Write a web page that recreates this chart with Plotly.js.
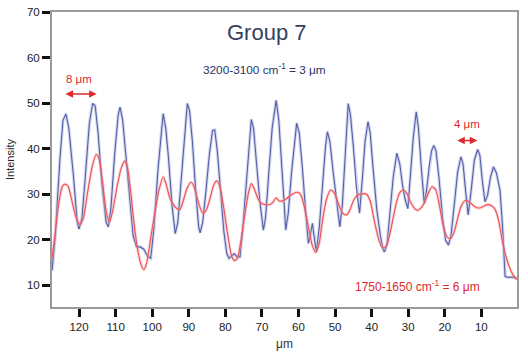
<!DOCTYPE html>
<html>
<head>
<meta charset="utf-8">
<script src="https://cdn.plot.ly/plotly-3.0.1.min.js"></script>
<style>html,body{margin:0;padding:0;background:#fff;}#chart{width:528px;height:357px;}</style>
</head>
<body>
<div id="chart"></div>
<script>
// Position along the scan (µm) and intensity for the 3200-3100 cm-1 band (blue)
const blueX = [127.4,126.6,125.2,124.4,123.6,122.8,121.5,120.5,120.0,119.2,118.3,117.2,116.3,115.6,114.8,113.8,112.6,112.0,111.3,110.3,109.3,108.8,108.1,107.2,106.1,105.2,104.3,103.3,102.3,101.3,100.4,99.5,98.4,97.4,97.0,96.3,95.6,94.6,93.7,93.0,92.2,91.3,90.4,89.8,89.0,88.2,87.3,86.9,86.2,85.3,84.4,83.5,82.9,82.2,81.3,80.4,79.6,79.0,78.3,77.6,76.8,76.0,75.3,74.4,73.6,72.9,72.3,71.5,70.6,69.6,69.0,68.2,67.2,66.5,66.1,65.4,64.6,63.9,63.5,62.8,61.9,61.0,60.5,59.8,58.9,58.1,57.3,56.8,56.2,55.6,55.1,54.3,53.4,52.6,52.1,51.4,50.5,49.5,48.7,48.0,47.3,46.8,46.4,45.8,45.0,44.2,43.3,42.6,41.8,41.0,40.4,39.6,38.6,37.6,36.9,36.5,35.8,35.0,34.1,33.1,32.3,31.5,30.8,30.1,29.4,28.6,27.8,27.2,26.4,25.6,25.0,24.2,23.6,23.0,22.4,21.6,20.6,19.8,19.0,18.3,17.4,16.5,15.6,15.0,14.3,13.6,12.8,11.9,11.0,10.4,9.7,9.0,8.3,7.5,6.7,5.9,4.9,4.2,3.5,2.5,1.5,0.3];
const blueY = [13.2,19.8,38.1,46.2,47.6,44.5,33.7,23.8,22.3,24.8,33.7,45.4,49.9,49.4,43.5,32.7,23.8,22.8,26.7,38.5,47.4,49.1,46.4,38.5,28.7,20.8,18.4,18.4,17.9,16.4,15.9,22.8,35.6,44.5,47.7,44.5,38.5,27.7,21.3,23.8,31.7,41.5,49.9,48.4,41.5,31.7,22.8,21.5,23.8,30.7,38.5,44.0,44.1,39.5,30.7,21.8,16.9,15.9,16.4,16.9,16.2,16.2,21.8,31.7,40.5,46.4,44.5,37.5,28.7,22.1,24.8,33.7,44.5,48.4,50.6,46.4,37.5,27.7,22.1,25.8,34.7,42.5,45.6,43.5,35.6,26.7,19.2,20.8,23.6,19.9,17.3,22.8,32.7,40.5,43.7,41.5,34.7,27.7,22.8,27.7,38.5,46.4,49.9,47.4,40.5,31.7,25.8,32.7,41.5,45.9,43.5,35.6,26.7,20.8,17.9,17.3,18.9,25.8,33.7,39.0,36.6,31.7,28.7,26.8,33.7,42.5,48.1,44.5,35.6,27.9,30.7,36.6,39.5,40.7,39.5,33.7,24.8,19.9,18.8,20.8,27.7,34.7,38.2,36.6,30.7,25.4,30.7,37.5,39.8,38.5,32.7,28.3,29.7,33.7,36.0,34.7,30.9,22.8,11.9,11.7,11.8,11.5];

// Position (µm) and intensity for the 1750-1650 cm-1 band (red)
const redX = [127.4,126.6,125.6,124.6,123.8,123.0,122.0,121.0,119.8,118.8,117.6,116.4,115.3,114.6,113.6,112.6,111.7,110.8,109.6,108.5,107.5,106.8,105.9,105.0,104.0,103.0,102.3,101.5,100.5,99.3,98.2,97.0,96.2,95.2,94.2,93.2,92.4,91.6,90.5,89.4,88.6,87.4,86.2,85.3,84.3,83.3,82.4,81.5,80.4,79.3,78.3,77.5,76.7,75.7,74.7,73.7,72.9,72.1,71.2,70.2,69.0,67.8,67.0,66.1,65.3,64.4,63.3,62.2,61.2,60.3,59.4,58.4,57.4,56.3,55.3,54.4,53.5,52.4,51.2,50.2,49.0,47.9,46.9,46.0,45.0,44.0,43.1,42.1,41.3,40.3,39.3,38.2,37.2,36.5,35.6,34.6,33.5,32.4,31.4,30.4,29.2,28.2,27.4,26.5,25.5,24.5,23.5,22.5,21.5,20.5,19.5,18.6,17.6,16.6,15.6,14.4,13.2,12.2,11.2,10.2,9.2,8.2,7.3,6.3,5.3,4.3,3.3,2.3,1.3,0.3];
const redY = [15.9,20.8,27.7,31.7,32.2,31.7,28.7,25.3,23.3,24.8,30.7,36.1,38.7,38.0,32.7,26.3,23.8,26.3,31.7,35.6,37.3,36.0,30.7,23.8,17.9,14.4,13.4,14.9,19.9,25.8,30.7,33.8,32.2,29.2,27.7,26.8,26.6,28.3,31.2,32.6,31.7,28.3,25.8,26.3,28.7,31.7,32.9,31.7,26.8,20.8,16.4,15.4,15.9,19.9,25.3,30.2,32.3,31.2,29.2,28.0,27.7,27.7,28.2,29.2,28.5,28.5,29.0,29.7,30.2,30.4,29.9,27.2,23.3,18.9,17.2,18.9,23.8,28.7,30.9,30.2,27.7,25.8,25.4,26.4,28.5,29.7,30.0,30.1,29.9,28.2,24.3,20.4,18.4,18.2,19.4,22.8,27.2,30.2,30.9,30.2,28.0,26.8,26.4,27.0,28.2,30.2,31.6,31.0,27.7,23.3,20.8,20.2,21.3,24.3,27.2,28.6,28.2,27.5,27.0,27.0,27.4,27.7,27.5,26.7,24.3,19.9,16.4,13.9,12.2,11.2];

const xTicks = [120,110,100,90,80,70,60,50,40,30,20,10];
const yTicks = [10,20,30,40,50,60,70];

const FONT = 'Liberation Sans, Arial, Helvetica, sans-serif';
const RED = '#dc2a2e';

const traces = [
  {x: blueX, y: blueY, mode: 'lines', line: {color: 'rgba(160,166,222,0.45)', width: 3.2}, hoverinfo: 'skip', showlegend: false},
  {x: blueX, y: blueY, mode: 'lines', line: {color: '#5560a6', width: 1.1}, showlegend: false, name: '3200-3100'},
  {x: redX, y: redY, mode: 'lines', line: {color: 'rgba(246,170,170,0.45)', width: 3, shape: 'spline', smoothing: 0.6}, hoverinfo: 'skip', showlegend: false},
  {x: redX, y: redY, mode: 'lines', line: {color: '#ec5257', width: 1.15, shape: 'spline', smoothing: 0.6}, showlegend: false, name: '1750-1650'}
];

const layout = {
  width: 528, height: 357,
  margin: {l: 52, r: 11, t: 12, b: 50},
  paper_bgcolor: '#fff', plot_bgcolor: '#fff',
  font: {family: FONT, size: 11.5, color: '#222'},
  xaxis: {
    range: [127.4, 0.25], tickvals: xTicks, ticktext: xTicks.map(String),
    ticks: 'outside', ticklen: 8, tickwidth: 3, tickcolor: '#111',
    showline: true, linecolor: '#9a9a9a', linewidth: 2, mirror: true,
    showgrid: false, zeroline: false,
    tickfont: {family: FONT, size: 11.5, color: '#222'},
    title: {text: 'μm', font: {family: FONT, size: 12, color: '#333'}, standoff: 8}
  },
  yaxis: {
    range: [5.2, 70], tickvals: yTicks, ticktext: yTicks.map(String),
    ticks: 'outside', ticklen: 8, tickwidth: 3, tickcolor: '#111',
    showline: true, linecolor: '#9a9a9a', linewidth: 2, mirror: true,
    showgrid: false, zeroline: false,
    tickfont: {family: FONT, size: 11.5, color: '#222'},
    title: {text: 'Intensity', font: {family: FONT, size: 11, color: '#222'}, standoff: 10}
  },
  annotations: [
    {x: 68.7, y: 65.4, xref: 'x', yref: 'y', text: 'Group 7', showarrow: false,
     font: {family: FONT, size: 22, color: '#34405f'}},
    {x: 69.4, y: 57.4, xref: 'x', yref: 'y', text: '3200-3100 cm<sup>-1</sup> = 3 μm', showarrow: false,
     font: {family: FONT, size: 11.8, color: '#2a3566'}},
    {x: 27.4, y: 9.85, xref: 'x', yref: 'y', text: '1750-1650 cm<sup>-1</sup> = 6 μm', showarrow: false,
     font: {family: FONT, size: 12, color: RED}},
    {x: 120.0, y: 55.2, xref: 'x', yref: 'y', text: '8 μm', showarrow: false,
     font: {family: FONT, size: 11.5, color: RED}},
    {x: 13.9, y: 45.5, xref: 'x', yref: 'y', text: '4 μm', showarrow: false,
     font: {family: FONT, size: 11.5, color: RED}},
    {x: 115.2, y: 52, ax: 124.1, ay: 52, xref: 'x', yref: 'y', axref: 'x', ayref: 'y', text: '',
     showarrow: true, arrowside: 'end+start', arrowhead: 2, arrowsize: 1, arrowwidth: 1.5, arrowcolor: RED},
    {x: 11.1, y: 41.8, ax: 17.0, ay: 41.8, xref: 'x', yref: 'y', axref: 'x', ayref: 'y', text: '',
     showarrow: true, arrowside: 'end+start', arrowhead: 2, arrowsize: 1, arrowwidth: 1.5, arrowcolor: RED}
  ]
};

Plotly.newPlot('chart', traces, layout, {displayModeBar: false, staticPlot: true});
</script>
</body>
</html>
